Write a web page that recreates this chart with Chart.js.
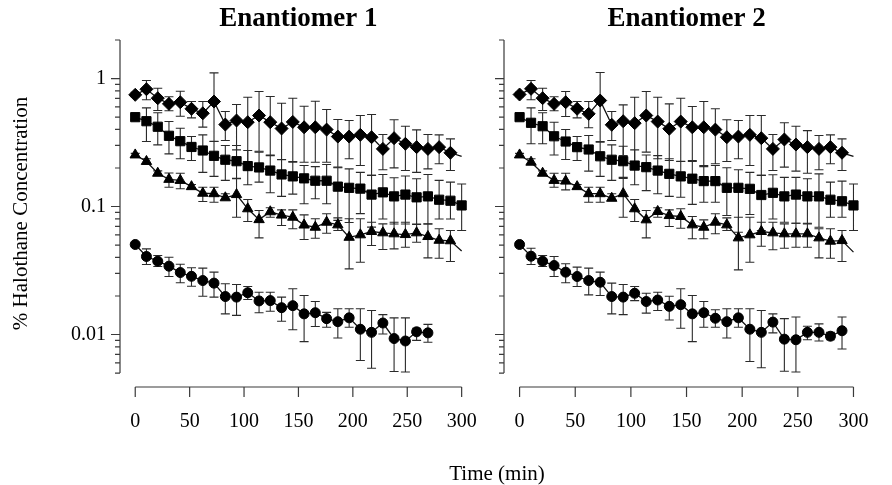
<!DOCTYPE html>
<html>
<head>
<meta charset="utf-8">
<script src="https://cdn.jsdelivr.net/npm/chart.js@4.4.0/dist/chart.umd.min.js"></script>
<style>
  html, body { margin: 0; padding: 0; background: #fff; }
  #wrap { position: relative; width: 892px; height: 485px; overflow: hidden; }
  canvas { position: absolute; top: 0; }
  #left { left: 0; }
  #right { left: 490px; }
  #xtitle { position: absolute; left: 397px; width: 200px; top: 461px; line-height: 24px;
            text-align: center; font: 21px "Liberation Serif", serif; color: #000; }
</style>
</head>
<body>
<div id="wrap">
  <canvas id="left" width="500" height="485"></canvas>
  <canvas id="right" width="402" height="485"></canvas>
  <div id="xtitle">Time (min)</div>
</div>
<script>
// sampling times (min)
const TIMES = [0, 10.3, 20.7, 31.0, 41.4, 51.7, 62.1, 72.4, 82.8, 93.1, 103.4, 113.8, 124.1, 134.5, 144.8,
               155.2, 165.5, 175.9, 186.2, 196.6, 206.9, 217.2, 227.6, 237.9, 248.3, 258.6, 269.0, 279.3, 289.7, 300];
const X_TICKS = [0, 50, 100, 150, 200, 250, 300];
const Y_TICKS = [0.005, 0.006, 0.007, 0.008, 0.009, 0.01, 0.02, 0.03, 0.04, 0.05, 0.06, 0.07, 0.08, 0.09,
                 0.1, 0.2, 0.3, 0.4, 0.5, 0.6, 0.7, 0.8, 0.9, 1, 2];
const Y_LABELS = [0.01, 0.1, 1];

// Enantiomer 1
const DIAMOND_1 = [0.746, 0.825, 0.702, 0.634, 0.653, 0.580, 0.535, 0.661, 0.437, 0.470, 0.456, 0.514, 0.456, 0.407, 0.458,
                   0.416, 0.416, 0.399, 0.352, 0.352, 0.363, 0.348, 0.282, 0.342, 0.309, 0.291, 0.282, 0.291, 0.263, 0.246];
const DIAMOND_1_HI = [0.78, 0.965, 0.840, 0.72, 0.796, 0.661, 0.661, 1.108, 0.552, 0.627, 0.714, 0.792, 0.723, 0.641, 0.702,
                      0.608, 0.665, 0.573, 0.478, 0.470, 0.514, 0.523, 0.365, 0.476, 0.424, 0.397, 0.365, 0.363, 0.338, null];
const DIAMOND_1_LO = [0.72, 0.682, 0.562, 0.56, 0.508, 0.493, 0.417, 0.324, 0.328, 0.277, 0.216, 0.270, 0.250, 0.232, 0.222,
                      0.222, 0.222, 0.222, 0.203, 0.236, 0.209, 0.175, 0.194, 0.2005, 0.191, 0.185, 0.197, 0.216, 0.191, null];

const SQUARE_1 = [0.499, 0.464, 0.420, 0.357, 0.324, 0.292, 0.274, 0.249, 0.232, 0.226, 0.207, 0.202, 0.191, 0.178, 0.172,
                  0.166, 0.159, 0.159, 0.143, 0.140, 0.138, 0.124, 0.129, 0.120, 0.124, 0.118, 0.120, 0.113, 0.111, 0.102];
const SQUARE_1_HI = [0.52, 0.590, 0.540, 0.461, 0.409, 0.352, 0.363, 0.322, 0.300, 0.300, 0.274, 0.266, 0.253, 0.233, 0.225,
                     0.209, 0.205, 0.213, 0.201, 0.197, 0.185, 0.175, 0.178, 0.168, 0.173, 0.165, 0.178, 0.16, 0.155, 0.15];
const SQUARE_1_LO = [0.48, 0.322, 0.303, 0.258, 0.236, 0.229, 0.185, 0.172, 0.160, 0.166, 0.148, 0.155, 0.128, 0.120, 0.125,
                     0.105, 0.115, 0.105, 0.078, 0.075, 0.088, 0.069, 0.080, 0.073, 0.073, 0.073, 0.073, 0.08, 0.08, 0.065];

const TRIANGLE_1 = [0.253, 0.225, 0.182, 0.163, 0.160, 0.143, 0.127, 0.126, 0.117, 0.124, 0.096, 0.079, 0.091, 0.0857, 0.0825,
                    0.0717, 0.0689, 0.0754, 0.0719, 0.0575, 0.0601, 0.0638, 0.0623, 0.0612, 0.0604, 0.0623, 0.0583, 0.0545, 0.054, 0.045];
const TRIANGLE_1_HI = [0.26, 0.236, 0.19, 0.183, 0.182, 0.1485, 0.1415, 0.1415, 0.1257, 0.1646, 0.1135, 0.093, 0.0977, 0.0942, 0.0942,
                       0.0861, 0.0802, 0.0877, 0.0816, 0.0802, 0.0802, 0.0754, 0.0732, 0.0754, 0.0754, 0.0723, 0.0732, 0.067, 0.065, null];
const TRIANGLE_1_LO = [0.245, 0.216, 0.175, 0.1415, 0.1375, 0.138, 0.1094, 0.108, 0.1135, 0.0825, 0.0763, 0.0569, 0.0825, 0.0711, 0.067,
                       0.0552, 0.0565, 0.0618, 0.065, 0.0326, 0.0367, 0.0496, 0.0461, 0.0467, 0.0481, 0.0526, 0.0397, 0.0394, 0.0372, null];

const CIRCLE_1 = [0.0505, 0.0407, 0.0374, 0.0342, 0.0305, 0.0285, 0.0264, 0.0252, 0.0198, 0.0196, 0.0212, 0.0183, 0.0184, 0.0162,
                  0.0168, 0.0145, 0.0148, 0.0133, 0.0126, 0.0135, 0.0110, 0.0104, 0.0123, 0.0093, 0.0089, 0.0105, 0.0103];
const CIRCLE_1_HI = [0.052, 0.0467, 0.0414, 0.0402, 0.0354, 0.0332, 0.033, 0.0307, 0.0249, 0.0246, 0.0237, 0.0214, 0.0214, 0.0196,
                     0.0228, 0.0202, 0.0181, 0.0149, 0.0159, 0.0159, 0.0159, 0.0154, 0.0143, 0.0135, 0.0135, 0.0112, 0.0120];
const CIRCLE_1_LO = [0.049, 0.0352, 0.034, 0.0284, 0.0254, 0.0238, 0.0199, 0.0196, 0.0145, 0.0141, 0.0188, 0.0148, 0.0152, 0.0127,
                     0.0109, 0.0088, 0.01155, 0.0114, 0.0094, 0.0114, 0.00626, 0.00545, 0.0101, 0.00514, 0.0051, 0.0090, 0.0087];

// Enantiomer 2
const DIAMOND_2 = [0.750, 0.831, 0.702, 0.634, 0.653, 0.580, 0.530, 0.673, 0.435, 0.464, 0.448, 0.514, 0.461, 0.405, 0.461,
                   0.416, 0.416, 0.399, 0.348, 0.352, 0.363, 0.342, 0.282, 0.334, 0.305, 0.291, 0.282, 0.291, 0.263, 0.246];
const DIAMOND_2_HI = [0.78, 0.965, 0.840, 0.72, 0.792, 0.661, 0.661, 1.114, 0.552, 0.623, 0.714, 0.792, 0.714, 0.634, 0.702,
                      0.604, 0.661, 0.580, 0.476, 0.470, 0.514, 0.514, 0.365, 0.451, 0.424, 0.392, 0.359, 0.363, 0.338, null];
const DIAMOND_2_LO = [0.72, 0.682, 0.562, 0.56, 0.505, 0.493, 0.412, 0.318, 0.328, 0.250, 0.216, 0.266, 0.236, 0.229, 0.226,
                      0.229, 0.209, 0.216, 0.225, 0.236, 0.209, 0.175, 0.191, 0.203, 0.189, 0.182, 0.194, 0.216, 0.191, null];

const SQUARE_2 = [0.499, 0.451, 0.424, 0.354, 0.322, 0.291, 0.279, 0.247, 0.232, 0.226, 0.209, 0.203, 0.191, 0.180, 0.172,
                  0.165, 0.158, 0.158, 0.140, 0.140, 0.1375, 0.123, 0.128, 0.120, 0.124, 0.120, 0.120, 0.113, 0.110, 0.102];
const SQUARE_2_HI = [0.52, 0.590, 0.540, 0.456, 0.400, 0.352, 0.359, 0.322, 0.303, 0.296, 0.277, 0.253, 0.250, 0.236, 0.225,
                     0.225, 0.205, 0.209, 0.201, 0.194, 0.185, 0.175, 0.177, 0.169, 0.169, 0.165, 0.180, 0.155, 0.158, 0.15];
const SQUARE_2_LO = [0.48, 0.309, 0.309, 0.253, 0.233, 0.229, 0.189, 0.172, 0.160, 0.169, 0.148, 0.133, 0.126, 0.120, 0.118,
                     0.104, 0.108, 0.108, 0.085, 0.063, 0.0866, 0.065, 0.080, 0.0754, 0.074, 0.0732, 0.0689, 0.0825, 0.0825, 0.065];

const TRIANGLE_2 = [0.253, 0.222, 0.182, 0.160, 0.158, 0.143, 0.126, 0.126, 0.116, 0.126, 0.096, 0.0787, 0.0915, 0.085, 0.0836,
                    0.0719, 0.0689, 0.0754, 0.0719, 0.0569, 0.0601, 0.0638, 0.0623, 0.0612, 0.0612, 0.0612, 0.0569, 0.0536, 0.0542, 0.044];
const TRIANGLE_2_HI = [0.26, 0.236, 0.19, 0.182, 0.182, 0.1485, 0.1415, 0.1415, 0.1257, 0.166, 0.1135, 0.093, 0.0977, 0.0942, 0.096,
                       0.0836, 0.0787, 0.0877, 0.0816, 0.0825, 0.0825, 0.0754, 0.0754, 0.0732, 0.074, 0.074, 0.067, 0.067, 0.065, null];
const TRIANGLE_2_LO = [0.245, 0.216, 0.175, 0.1415, 0.135, 0.138, 0.108, 0.108, 0.1135, 0.0825, 0.0763, 0.0569, 0.0825, 0.0698, 0.0677,
                       0.056, 0.056, 0.0612, 0.065, 0.032, 0.0367, 0.049, 0.0459, 0.0472, 0.0481, 0.0481, 0.0397, 0.0394, 0.0372, null];

const CIRCLE_2 = [0.0505, 0.0409, 0.0374, 0.0346, 0.0307, 0.0284, 0.0264, 0.0256, 0.0198, 0.0196, 0.0210, 0.0181, 0.0186, 0.0166,
                  0.0171, 0.0145, 0.0148, 0.0134, 0.0126, 0.0135, 0.0110, 0.0104, 0.0125, 0.0092, 0.0091, 0.0104, 0.0104, 0.0097, 0.0107];
const CIRCLE_2_HI = [0.052, 0.0472, 0.0414, 0.0407, 0.0357, 0.0336, 0.033, 0.0307, 0.0252, 0.0246, 0.0237, 0.0210, 0.0214, 0.0199,
                     0.0228, 0.0202, 0.0181, 0.0156, 0.0159, 0.0159, 0.0159, 0.0154, 0.0145, 0.0133, 0.0137, 0.0116, 0.0121, 0.0104, 0.0137];
const CIRCLE_2_LO = [0.049, 0.0352, 0.034, 0.0284, 0.0254, 0.0237, 0.0204, 0.0202, 0.0145, 0.0143, 0.0184, 0.0147, 0.0154, 0.0130,
                     0.0112, 0.0088, 0.0114, 0.0114, 0.0094, 0.0114, 0.00615, 0.0055, 0.0103, 0.00517, 0.0051, 0.0091, 0.0089, 0.0091, 0.0077];

Chart.defaults.font.family = '"Liberation Serif", "Times New Roman", serif';
Chart.defaults.color = '#000';

const CAP = 4.5;

// vertical error bars with caps, drawn under the markers
const errorBars = {
    id: 'errorBars',
    beforeDatasetsDraw(chart) {
        const ctx = chart.ctx;
        const y = chart.scales.y;
        chart.data.datasets.forEach((ds, di) => {
            if (!ds.hi) return;
            const meta = chart.getDatasetMeta(di);
            ctx.save();
            ctx.strokeStyle = '#2a2a2a';
            ctx.lineWidth = 1.1;
            ctx.beginPath();
            meta.data.forEach((pt, i) => {
                if (ds.hi[i] == null) return;
                const yh = y.getPixelForValue(ds.hi[i]);
                const yl = y.getPixelForValue(ds.lo[i]);
                ctx.moveTo(pt.x, yh); ctx.lineTo(pt.x, yl);
                ctx.moveTo(pt.x - CAP, yh); ctx.lineTo(pt.x + CAP, yh);
                ctx.moveTo(pt.x - CAP, yl); ctx.lineTo(pt.x + CAP, yl);
            });
            ctx.stroke();
            ctx.restore();
        });
    }
};

// detached axis lines + tick marks, and the panel title
const axesLines = {
    id: 'axesLines',
    afterDraw(chart, args, opts) {
        const { ctx, chartArea } = chart;
        const x = chart.scales.x, y = chart.scales.y;
        ctx.save();
        ctx.strokeStyle = '#3a3a3a';
        ctx.lineWidth = 1.2;
        ctx.beginPath();
        const ax = chartArea.left;
        ctx.moveTo(ax, y.getPixelForValue(Y_TICKS[Y_TICKS.length - 1]));
        ctx.lineTo(ax, y.getPixelForValue(Y_TICKS[0]));
        Y_TICKS.forEach(v => {
            const py = y.getPixelForValue(v);
            const len = Y_LABELS.includes(v) ? 9 : 5;
            ctx.moveTo(ax - len, py); ctx.lineTo(ax, py);
        });
        const ay = chartArea.bottom;
        ctx.moveTo(x.getPixelForValue(X_TICKS[0]), ay);
        ctx.lineTo(x.getPixelForValue(X_TICKS[X_TICKS.length - 1]), ay);
        X_TICKS.forEach(v => {
            const px = x.getPixelForValue(v);
            ctx.moveTo(px, ay); ctx.lineTo(px, ay + 10);
        });
        ctx.stroke();

        ctx.fillStyle = '#000';
        ctx.font = 'bold 27px "Liberation Serif", serif';
        ctx.textAlign = 'center';
        ctx.textBaseline = 'alphabetic';
        ctx.fillText(opts.title, x.getPixelForValue(150), 26);
        ctx.restore();
    }
};

function series(values, hi, lo, style, radius, hideLast) {
    return {
        data: values.map((v, i) => ({ x: TIMES[i], y: v })),
        hi: hi,
        lo: lo,
        borderColor: '#111',
        borderWidth: 1.3,
        pointStyle: style,
        pointRadius: hideLast ? values.map((v, i) => i === values.length - 1 ? 0 : radius) : radius,
        pointBackgroundColor: '#000',
        pointBorderColor: '#000',
        pointBorderWidth: 1,
        tension: 0,
        fill: false
    };
}

function makePanel(canvasId, title, datasets, yWidth, showYLabels, padding) {
    const ctx = document.getElementById(canvasId).getContext('2d');
    return new Chart(ctx, {
        type: 'line',
        data: { datasets: datasets },
        options: {
            responsive: false,
            animation: false,
            events: [],
            layout: { padding: padding },
            plugins: {
                legend: { display: false },
                tooltip: { enabled: false },
                axesLines: { title: title }
            },
            scales: {
                x: {
                    type: 'linear',
                    min: -14,
                    max: 307,
                    grid: { display: false, drawTicks: false },
                    border: { display: false },
                    afterBuildTicks: scale => { scale.ticks = X_TICKS.map(v => ({ value: v })); },
                    afterFit: scale => { scale.height = 98; },
                    ticks: { font: { size: 20 }, color: '#000', padding: 23, maxRotation: 0, autoSkip: false }
                },
                y: {
                    type: 'logarithmic',
                    min: 0.00389,
                    max: 2,
                    grid: { display: false, drawTicks: false },
                    border: { display: false },
                    afterBuildTicks: scale => { scale.ticks = Y_TICKS.map(v => ({ value: v })); },
                    afterFit: scale => { scale.width = yWidth; },
                    ticks: {
                        display: showYLabels,
                        autoSkip: false,
                        font: { size: 20 },
                        color: '#000',
                        padding: 14,
                        callback: v => Y_LABELS.includes(v) ? String(v) : ''
                    },
                    title: {
                        display: showYLabels,
                        text: '% Halothane Concentration',
                        font: { size: 21 },
                        color: '#000',
                        padding: { top: 4, bottom: 0 }
                    }
                }
            }
        },
        plugins: [errorBars, axesLines]
    });
}

document.addEventListener('DOMContentLoaded', () => {
    makePanel('left', 'Enantiomer 1', [
        series(DIAMOND_1, DIAMOND_1_HI, DIAMOND_1_LO, 'rectRot', 6.5, true),
        series(SQUARE_1, SQUARE_1_HI, SQUARE_1_LO, 'rect', 6.5, false),
        series(TRIANGLE_1, TRIANGLE_1_HI, TRIANGLE_1_LO, 'triangle', 6, true),
        series(CIRCLE_1, CIRCLE_1_HI, CIRCLE_1_LO, 'circle', 5, false)
    ], 115, true, { left: 5, right: 16, top: 40, bottom: 0 });

    makePanel('right', 'Enantiomer 2', [
        series(DIAMOND_2, DIAMOND_2_HI, DIAMOND_2_LO, 'rectRot', 6.5, true),
        series(SQUARE_2, SQUARE_2_HI, SQUARE_2_LO, 'rect', 6.5, false),
        series(TRIANGLE_2, TRIANGLE_2_HI, TRIANGLE_2_LO, 'triangle', 6, true),
        series(CIRCLE_2, CIRCLE_2_HI, CIRCLE_2_LO, 'circle', 5, false)
    ], 14, false, { left: 0, right: 24, top: 40, bottom: 0 });
});
</script>
</body>
</html>
